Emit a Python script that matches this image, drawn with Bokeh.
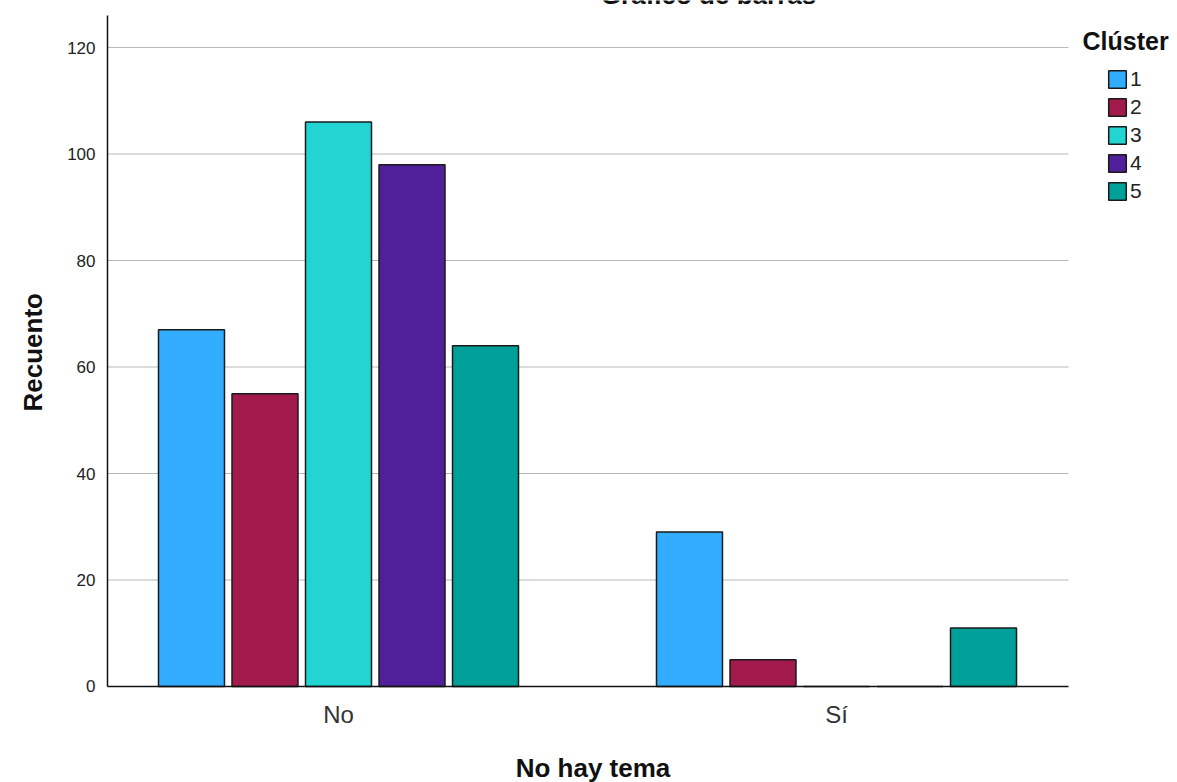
from bokeh.plotting import figure
from bokeh.models import (ColumnDataSource, Range1d, FixedTicker, Legend, LegendItem, Label, Title)
from bokeh.core.properties import value
from bokeh.transform import dodge
from bokeh.embed import file_html
from bokeh.resources import INLINE

# ---- data ----
categories = ["No", "Sí"]
clusters = ["1", "2", "3", "4", "5"]
counts_c1 = [67, 29]
counts_c2 = [55, 5]
counts_c3 = [106, 0]
counts_c4 = [98, 0]
counts_c5 = [64, 11]
cluster_colors = ["#31acff", "#a21a4c", "#22d5d3", "#50209a", "#00a09a"]
y_ticks = [0, 20, 40, 60, 80, 100, 120]

series = [counts_c1, counts_c2, counts_c3, counts_c4, counts_c5]

FONT = "Liberation Sans"

# layout constants (plot-area bounds / text positions in data units)
AREA_LEFT, AREA_RIGHT, AREA_TOP = -0.46386, 1.46586, 126.0
TICK_LABEL_Y = -5.26
XTITLE_Y = -15.4

p = figure(width=1177, height=782, output_backend="svg", toolbar_location=None,
           x_range=Range1d(-0.46787, 1.68474), y_range=Range1d(-18.03, 128.83),
           min_border_left=105, min_border_right=0, min_border_top=0, min_border_bottom=0)

p.outline_line_color = None
p.background_fill_color = "white"
p.border_fill_color = "white"

# horizontal gridlines limited to the plot area
p.segment(x0=AREA_LEFT, x1=AREA_RIGHT, y0=y_ticks[1:], y1=y_ticks[1:],
          line_color="#b8b8b8", line_width=1)

src = ColumnDataSource(dict(xpos=list(range(len(categories))), cat=categories,
                            **{f"c{i+1}": s for i, s in enumerate(series)}))

pitch = 0.1476
bar_w = 0.1325
renderers = []
for i, col in enumerate(cluster_colors):
    r = p.vbar(x=dodge("xpos", (i - 2) * pitch, range=p.x_range), top=f"c{i+1}", width=bar_w,
               bottom=0, source=src, fill_color=col, line_color="#1a1a1a", line_width=1.5)
    renderers.append(r)

# axis lines limited to the plot area
p.segment(x0=AREA_LEFT, x1=AREA_RIGHT, y0=0, y1=0, line_color="#111111", line_width=1.5)
p.segment(x0=AREA_LEFT, x1=AREA_LEFT, y0=0, y1=AREA_TOP, line_color="#111111", line_width=1.5)

# category labels (x axis)
p.text(x="xpos", y=TICK_LABEL_Y, text="cat", source=src, text_font=value(FONT),
       text_font_size="24px", text_color="#333333", text_align="center",
       text_baseline="middle")
p.xaxis.visible = False

p.yaxis.ticker = FixedTicker(ticks=y_ticks)
p.yaxis.major_label_text_font = FONT
p.yaxis.major_label_text_font_size = "17px"
p.yaxis.major_label_text_color = "#222222"
p.yaxis.major_label_standoff = 10
p.yaxis.major_tick_line_color = None
p.yaxis.major_tick_out = 0
p.yaxis.minor_tick_line_color = None
p.yaxis.axis_line_color = None

p.xgrid.grid_line_color = None
p.ygrid.grid_line_color = None

# axis titles
p.add_layout(Label(x=(AREA_LEFT + AREA_RIGHT) / 2 + 0.01, y=XTITLE_Y, text="No hay tema",
                   text_font=FONT, text_font_style="bold", text_font_size="26px",
                   text_baseline="middle", text_align="center", text_color="#111111"))
p.add_layout(Title(text="Recuento", align="left", offset=371, standoff=30,
                   vertical_align="top",
                   text_font=FONT, text_font_style="bold", text_font_size="26px",
                   text_color="#111111"), "left")

# legend (inside the wide frame, right of the plot area)
legend = Legend(items=[LegendItem(label=c, renderers=[r]) for c, r in zip(clusters, renderers)],
                location=(1001, 579), orientation="vertical",
                glyph_width=22, glyph_height=22, label_height=20, spacing=4,
                label_standoff=2, padding=0, margin=0,
                label_text_font=FONT, label_text_font_size="21px", label_text_color="#222222",
                border_line_color=None, background_fill_alpha=0)
p.add_layout(legend)

p.add_layout(Label(x=1.494, y=121.3, text="Clúster", text_font=FONT, text_font_style="bold",
                   text_font_size="25px", text_baseline="middle", text_align="left",
                   text_color="#111111"))

p.add_layout(Label(x=0.743, y=129.8, text="Gráfico de barras", text_font=FONT,
                   text_font_style="bold", text_font_size="26px", text_baseline="alphabetic",
                   text_align="center", text_color="#111111"))

open("out.html", "w").write(file_html(p, INLINE))
